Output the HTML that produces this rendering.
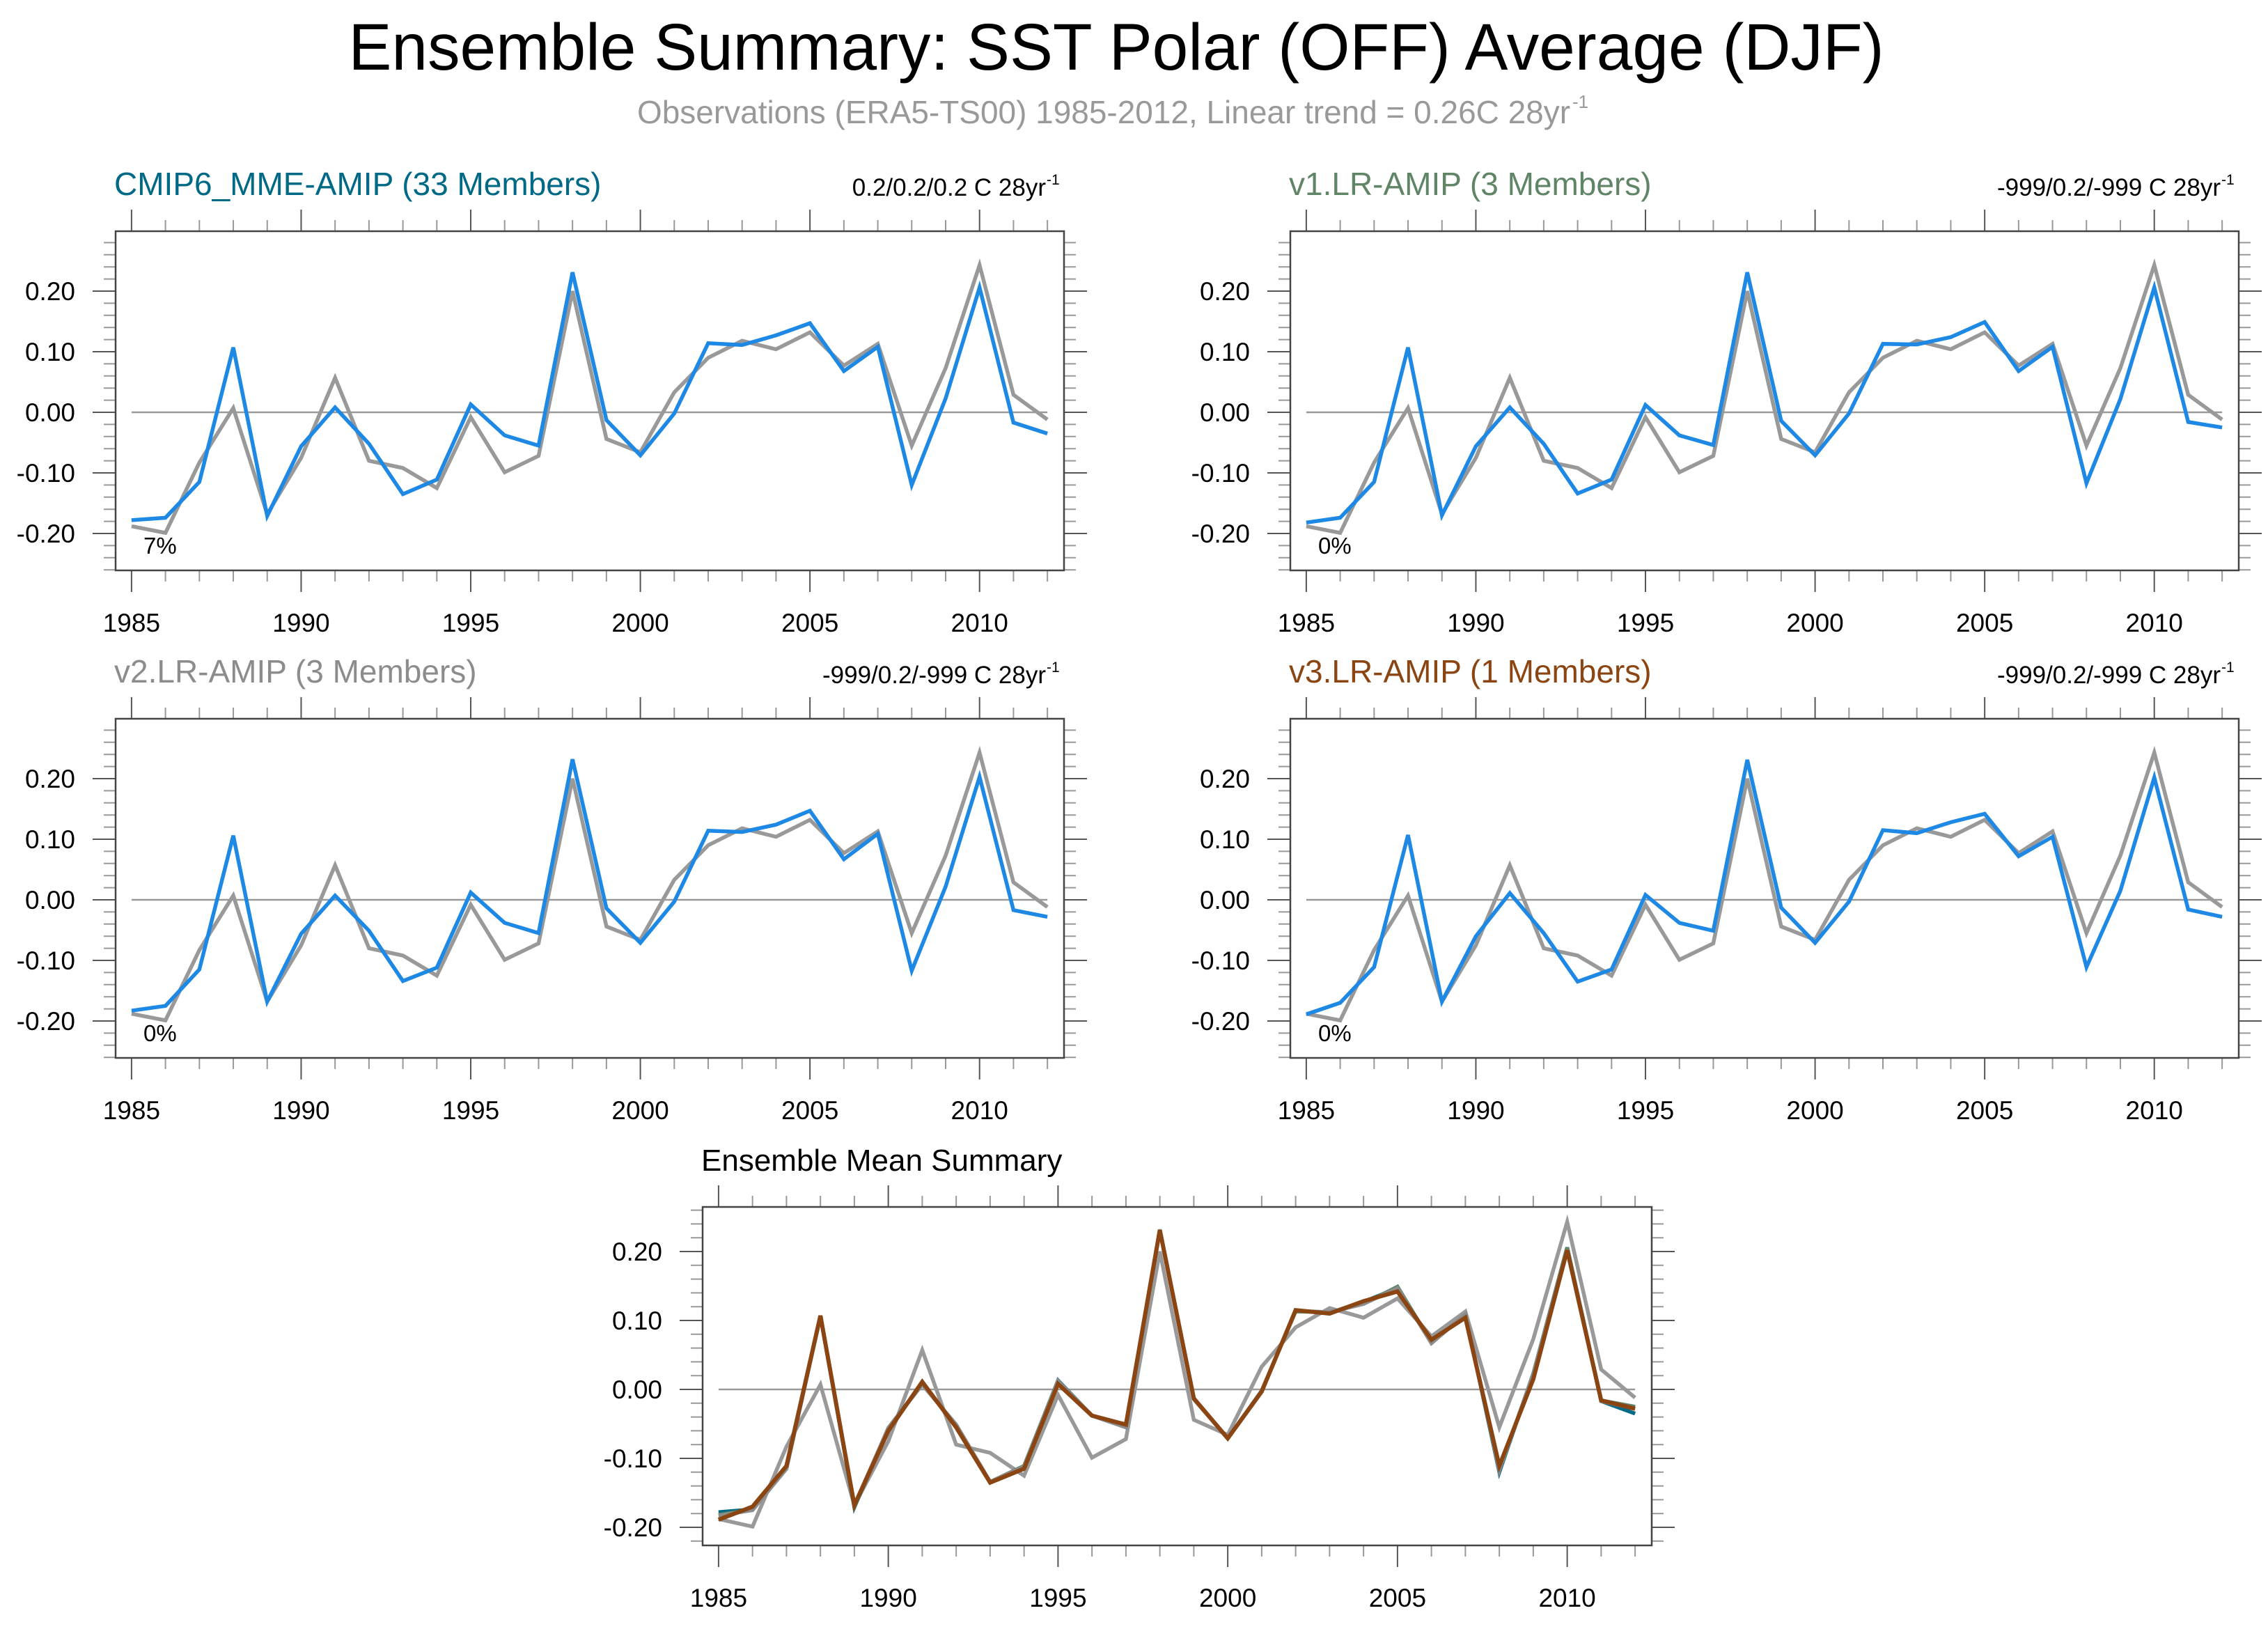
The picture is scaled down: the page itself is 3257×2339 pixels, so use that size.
<!DOCTYPE html>
<html>
<head>
<meta charset="utf-8">
<style>
html,body{margin:0;padding:0;background:#fff;}
svg{display:block;}
text{font-family:"Liberation Sans",Arial,sans-serif;}
</style>
</head>
<body>
<svg id="fig" width="3257" height="2339" viewBox="0 0 3257 2339" xmlns="http://www.w3.org/2000/svg">
<rect x="0" y="0" width="3257" height="2339" fill="#fff"/>
<text x="1603" y="100" font-size="95" text-anchor="middle" textLength="2205" lengthAdjust="spacingAndGlyphs" fill="#000">Ensemble Summary: SST Polar (OFF) Average (DJF)</text>
<text x="915" y="177" font-size="46" fill="#999" textLength="1340" lengthAdjust="spacingAndGlyphs">Observations (ERA5-TS00) 1985-2012, Linear trend = 0.26C 28yr</text>
<text x="2258" y="155" font-size="26" fill="#999">-1</text>
</svg>
<script>
const years = [1985,1986,1987,1988,1989,1990,1991,1992,1993,1994,1995,1996,1997,1998,1999,2000,2001,2002,2003,2004,2005,2006,2007,2008,2009,2010,2011,2012];
const obsValues = [-0.188,-0.199,-0.083,0.007,-0.168,-0.075,0.057,-0.080,-0.092,-0.125,-0.008,-0.099,-0.072,0.200,-0.044,-0.066,0.033,0.090,0.118,0.104,0.132,0.077,0.113,-0.055,0.073,0.243,0.029,-0.012];
const cmip6Values = [-0.178,-0.174,-0.115,0.107,-0.171,-0.056,0.008,-0.052,-0.135,-0.111,0.013,-0.038,-0.055,0.231,-0.013,-0.071,-0.002,0.114,0.111,0.127,0.147,0.068,0.108,-0.120,0.023,0.206,-0.017,-0.035];
const v1Values = [-0.182,-0.174,-0.115,0.107,-0.170,-0.056,0.008,-0.052,-0.134,-0.111,0.012,-0.038,-0.054,0.231,-0.014,-0.071,-0.002,0.113,0.112,0.124,0.149,0.068,0.108,-0.117,0.022,0.206,-0.016,-0.025];
const v2Values = [-0.183,-0.175,-0.115,0.106,-0.168,-0.056,0.007,-0.051,-0.134,-0.112,0.012,-0.038,-0.055,0.232,-0.014,-0.071,-0.003,0.114,0.112,0.124,0.147,0.067,0.109,-0.117,0.022,0.203,-0.017,-0.028];
const v3Values = [-0.189,-0.170,-0.111,0.107,-0.168,-0.060,0.011,-0.055,-0.135,-0.115,0.008,-0.038,-0.051,0.231,-0.013,-0.071,-0.003,0.115,0.110,0.128,0.142,0.072,0.104,-0.111,0.015,0.202,-0.016,-0.028];
const yTickLabels = ["-0.20","-0.10","0.00","0.10","0.20"];
const yTickValues = [-0.2,-0.1,0,0.1,0.2];
const xTickLabels = ["1985","1990","1995","2000","2005","2010"];
const xTickValues = [1985,1990,1995,2000,2005,2010];

const NS = "http://www.w3.org/2000/svg";
const svg = document.getElementById("fig");
function mk(tag, attrs, parent){
  const e = document.createElementNS(NS, tag);
  for (const k in attrs) e.setAttribute(k, attrs[k]);
  (parent||svg).appendChild(e);
  return e;
}

function drawPanel(p){
  const g = mk("g", {});
  
  
  const L=p.left, R=p.right, T=p.top, B=p.bottom;
  const xs = v => L + (v - 1984.53) / (2012.49 - 1984.53) * (R - L);
  const ys = v => p.zeroY - v * p.pxPerUnit;
  const ymax = (p.zeroY - T) / p.pxPerUnit, ymin = (p.zeroY - B) / p.pxPerUnit;
  for (let k = Math.ceil(ymin/0.02 - 1e-6); k <= Math.floor(ymax/0.02 + 1e-6); k++){
    const v = k*0.02, y = ys(v);
    const major = Math.abs(v*10 - Math.round(v*10)) < 1e-6;
    const len = major ? 33 : 17;
    const col = major ? "#555" : "#999";
    const t1 = mk("line",{x1:L-len,y1:y,x2:L,y2:y,stroke:col,"stroke-width":2},g);
    
    
    const t2 = mk("line",{x1:R,y1:y,x2:R+len,y2:y,stroke:col,"stroke-width":2},g);
    
    
  }
  years.forEach(yr => {
    const x = xs(yr);
    const major = yr % 5 === 0;
    const len = major ? 31 : 16;
    const col = major ? "#555" : "#999";
    const a = mk("line",{x1:x,y1:T-len,x2:x,y2:T,stroke:col,"stroke-width":2},g);
    
    
    const b = mk("line",{x1:x,y1:B,x2:x,y2:B+len,stroke:col,"stroke-width":2},g);
    
    
  });
  const fr = mk("rect",{x:L,y:T,width:R-L,height:B-T,fill:"none",stroke:"#444","stroke-width":2.5},g);
  
  
  yTickValues.forEach((v,i) => {
    const t = mk("text",{x:L-58,y:ys(v)+13,"font-size":37,"text-anchor":"end",fill:"#000"},g);
    t.textContent = yTickLabels[i];
    
    
  });
  xTickValues.forEach((v,i) => {
    const t = mk("text",{x:xs(v),y:B+88,"font-size":37,"text-anchor":"middle",fill:"#000"},g);
    t.textContent = xTickLabels[i];
    
    
  });
  const z = mk("line",{x1:xs(1985),y1:ys(0),x2:xs(2012),y2:ys(0),stroke:"#999","stroke-width":2.5},g);
  
  
  p.series.forEach(s => {
    const pts = years.map((yr,i) => xs(yr).toFixed(1)+","+ys(s.values[i]).toFixed(1)).join(" ");
    const pl = mk("polyline",{points:pts,fill:"none",stroke:s.color,"stroke-width":s.width||5.5,"stroke-linejoin":"miter"},g);
    
    
  });
  const tt = mk("text",{x:L-2,y:T-52,"font-size":p.titleSize||46,fill:p.titleColor},g);
  tt.textContent = p.title;
  
  
  if (p.trend){
    const tr = mk("text",{x:R-26,y:T-51,"font-size":35,"text-anchor":"end",fill:"#000"},g);
    tr.textContent = p.trend;
    
    
    const sp = mk("text",{x:R-25,y:T-67,"font-size":21,"text-anchor":"start",fill:"#000"},g);
    sp.textContent = "-1";
    
    
  }
  if (p.pct){
    const pc = mk("text",{x:L+40,y:ys(-0.222)+10,"font-size":33,fill:"#000"},g);
    pc.textContent = p.pct;
    
    
  }
}

const OBS = "#999999", BLUE = "#1e88e5";
const panels = [
  {name:"panel-cmip6", left:166,right:1528,top:332,bottom:819,zeroY:592,pxPerUnit:870,title:"CMIP6_MME-AMIP (33 Members)",titleColor:"#006a86",trend:"0.2/0.2/0.2 C 28yr",pct:"7%",
   series:[{name:"obs-line",values:obsValues,color:OBS},{name:"cmip6-line",values:cmip6Values,color:BLUE}]},
  {name:"panel-v1",left:1853,right:3215,top:332,bottom:819,zeroY:592,pxPerUnit:870,title:"v1.LR-AMIP (3 Members)",titleColor:"#5f8466",trend:"-999/0.2/-999 C 28yr",pct:"0%",
   series:[{name:"obs-line",values:obsValues,color:OBS},{name:"v1-line",values:v1Values,color:BLUE}]},
  {name:"panel-v2",left:166,right:1528,top:1032,bottom:1519,zeroY:1292,pxPerUnit:870,title:"v2.LR-AMIP (3 Members)",titleColor:"#8c8c8c",trend:"-999/0.2/-999 C 28yr",pct:"0%",
   series:[{name:"obs-line",values:obsValues,color:OBS},{name:"v2-line",values:v2Values,color:BLUE}]},
  {name:"panel-v3",left:1853,right:3215,top:1032,bottom:1519,zeroY:1292,pxPerUnit:870,title:"v3.LR-AMIP (1 Members)",titleColor:"#8b4513",trend:"-999/0.2/-999 C 28yr",pct:"0%",
   series:[{name:"obs-line",values:obsValues,color:OBS},{name:"v3-line",values:v3Values,color:BLUE}]},
  {name:"panel-ensemble-mean",left:1009,right:2372,top:1733,bottom:2219,zeroY:1995,pxPerUnit:990,title:"Ensemble Mean Summary",titleColor:"#000",titleSize:44,
   series:[{name:"obs-line",values:obsValues,color:OBS},{name:"cmip6-mean-line",values:cmip6Values,color:"#006a86"},{name:"v1-mean-line",values:v1Values,color:"#5f8466"},{name:"v2-mean-line",values:v2Values,color:"#8c8c8c"},{name:"v3-mean-line",values:v3Values,color:"#8b4513",width:6}]}
];
panels.forEach(drawPanel);
</script>
</body>
</html>
